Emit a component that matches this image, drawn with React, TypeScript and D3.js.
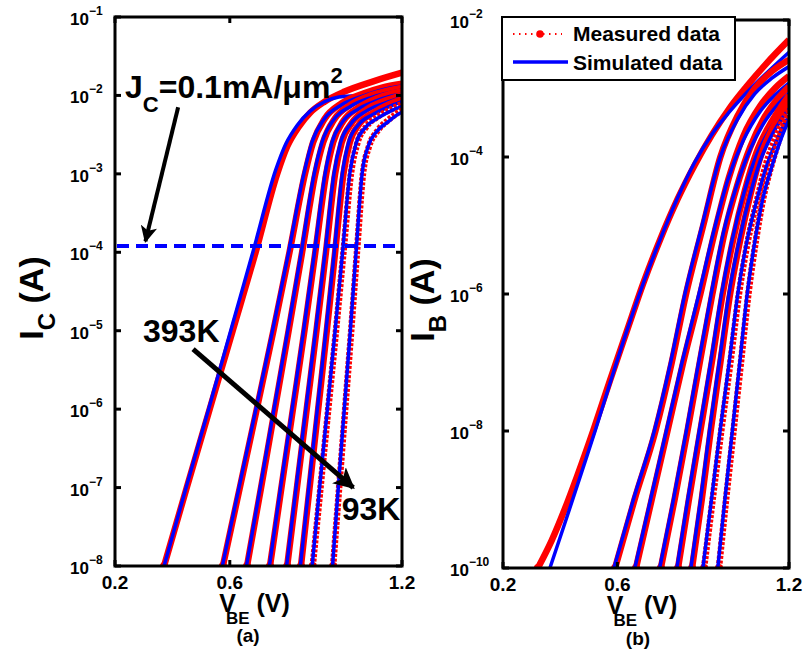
import React from 'react';
import * as d3 from 'd3';

const FONT = '"Liberation Sans", Arial, Helvetica, sans-serif';

// ---------- axes / ticks ----------
const vbeTicks = [0.2, 0.6, 1.2];
const icTickExp = [-8, -7, -6, -5, -4, -3, -2, -1];
const ibTickExp = [-10, -8, -6, -4, -2];
const temps = ['393K', 'T2', 'T3', 'T4', 'T5', 'T6', 'T7', '93K'];

// ---------- (a) I_C vs V_BE : [V_BE (V), log10 I_C (A)] ----------
const icM1 = [[0.371, -8], [0.45, -7], [0.53, -6], [0.61, -5], [0.69, -4], [0.765, -3], [0.8, -2.65], [0.84, -2.4], [0.88, -2.22], [0.93, -2.08], [1.0, -1.95], [1.1, -1.82], [1.2, -1.71]];
const icS1 = [[0.371, -8], [0.45, -6.97], [0.53, -5.95], [0.607, -4.95], [0.684, -3.95], [0.76, -2.95], [0.795, -2.62], [0.835, -2.38], [0.88, -2.2], [0.93, -2.08], [0.98, -2.02], [1.05, -2.0], [1.1, -1.98], [1.15, -1.93], [1.2, -1.87]];
const icM2 = [[0.576, -8], [0.635, -7], [0.694, -6], [0.752, -5], [0.808, -4], [0.862, -3], [0.89, -2.6], [0.93, -2.3], [0.99, -2.1], [1.07, -1.97], [1.13, -1.9], [1.2, -1.85]];
const icS2 = [[0.574, -8], [0.632, -7], [0.691, -6], [0.749, -5], [0.805, -4], [0.858, -3], [0.886, -2.6], [0.927, -2.31], [0.99, -2.12], [1.07, -2.0], [1.13, -1.93], [1.2, -1.88]];
const icM3 = [[0.66, -8], [0.709, -7], [0.757, -6], [0.805, -5], [0.852, -4], [0.898, -3], [0.925, -2.6], [0.965, -2.3], [1.02, -2.12], [1.09, -2.0], [1.15, -1.94], [1.2, -1.9]];
const icS3 = [[0.658, -8], [0.706, -7], [0.754, -6], [0.802, -5], [0.849, -4], [0.894, -3], [0.921, -2.6], [0.962, -2.31], [1.02, -2.14], [1.09, -2.03], [1.15, -1.97], [1.2, -1.93]];
const icM4 = [[0.74, -8], [0.78, -7], [0.82, -6], [0.86, -5], [0.898, -4], [0.936, -3], [0.96, -2.6], [0.995, -2.33], [1.05, -2.15], [1.11, -2.04], [1.16, -1.98], [1.2, -1.95]];
const icS4 = [[0.738, -8], [0.777, -7], [0.817, -6], [0.857, -5], [0.895, -4], [0.932, -3], [0.956, -2.6], [0.992, -2.34], [1.05, -2.17], [1.11, -2.07], [1.16, -2.01], [1.2, -1.98]];
const icM5 = [[0.8, -8], [0.834, -7], [0.868, -6], [0.902, -5], [0.935, -4], [0.967, -3], [0.99, -2.6], [1.025, -2.35], [1.075, -2.18], [1.13, -2.08], [1.17, -2.03], [1.2, -2.0]];
const icS5 = [[0.798, -8], [0.831, -7], [0.865, -6], [0.899, -5], [0.932, -4], [0.963, -3], [0.986, -2.6], [1.022, -2.36], [1.075, -2.2], [1.13, -2.11], [1.17, -2.06], [1.2, -2.03]];
const icM6 = [[0.848, -8], [0.878, -7], [0.908, -6], [0.938, -5], [0.967, -4], [0.996, -3], [1.018, -2.6], [1.05, -2.37], [1.1, -2.22], [1.15, -2.12], [1.2, -2.05]];
const icS6 = [[0.846, -8], [0.875, -7], [0.905, -6], [0.935, -5], [0.964, -4], [0.992, -3], [1.014, -2.6], [1.047, -2.38], [1.1, -2.24], [1.15, -2.15], [1.2, -2.08]];
const icM7 = [[0.889, -8], [0.916, -7], [0.943, -6], [0.97, -5], [0.996, -4], [1.022, -3], [1.045, -2.6], [1.075, -2.4], [1.12, -2.26], [1.165, -2.17], [1.2, -2.11]];
const icS7 = [[0.887, -8], [0.913, -7], [0.94, -6], [0.967, -5], [0.993, -4], [1.018, -3], [1.041, -2.6], [1.072, -2.41], [1.12, -2.28], [1.165, -2.19], [1.2, -2.14]];
const icM8 = [[0.96, -8], [0.981, -7], [1.002, -6], [1.023, -5], [1.043, -4], [1.064, -3], [1.085, -2.65], [1.115, -2.45], [1.15, -2.32], [1.178, -2.24], [1.2, -2.19]];
const icS8 = [[0.958, -8], [0.978, -7], [0.999, -6], [1.02, -5], [1.04, -4], [1.061, -3], [1.082, -2.65], [1.112, -2.46], [1.15, -2.34], [1.178, -2.26], [1.2, -2.21]];

// ---------- (b) I_B vs V_BE : [V_BE (V), log10 I_B (A)] ----------
const ibM1 = [[0.322, -10], [0.37, -9.6], [0.415, -9.15], [0.46, -8.65], [0.515, -8], [0.575, -7.25], [0.634, -6.53], [0.69, -5.85], [0.75, -5.2], [0.81, -4.62], [0.87, -4.12], [0.93, -3.68], [0.99, -3.3], [1.05, -2.98], [1.12, -2.64], [1.2, -2.29]];
const ibS1 = [[0.364, -10], [0.42, -9.3], [0.475, -8.6], [0.522, -8], [0.578, -7.25], [0.628, -6.6], [0.69, -5.85], [0.75, -5.2], [0.81, -4.6], [0.87, -4.08], [0.93, -3.67], [0.99, -3.35], [1.05, -3.07], [1.12, -2.78], [1.2, -2.47]];
const ibM2 = [[0.592, -10], [0.66, -9], [0.733, -8], [0.79, -7], [0.84, -6], [0.9, -5], [0.96, -4], [1.02, -3.4], [1.08, -3.0], [1.14, -2.75], [1.2, -2.58]];
const ibS2 = [[0.588, -10], [0.656, -9], [0.729, -8], [0.786, -7], [0.836, -6], [0.896, -5], [0.958, -4.02], [1.02, -3.45], [1.08, -3.08], [1.14, -2.85], [1.2, -2.68]];
const ibM3 = [[0.665, -10], [0.72, -9], [0.775, -8], [0.83, -7], [0.89, -6], [0.94, -5.1], [0.99, -4.3], [1.04, -3.7], [1.1, -3.25], [1.15, -3.0], [1.2, -2.82]];
const ibS3 = [[0.661, -10], [0.716, -9], [0.771, -8], [0.826, -7], [0.885, -6], [0.936, -5.1], [0.987, -4.32], [1.04, -3.76], [1.1, -3.33], [1.15, -3.1], [1.2, -2.92]];
const ibM4 = [[0.752, -10], [0.8, -9], [0.845, -8], [0.888, -7], [0.932, -6], [0.975, -5.1], [1.02, -4.4], [1.065, -3.85], [1.11, -3.45], [1.16, -3.15], [1.2, -2.97]];
const ibS4 = [[0.748, -10], [0.796, -9], [0.841, -8], [0.884, -7], [0.928, -6], [0.971, -5.1], [1.017, -4.42], [1.063, -3.9], [1.11, -3.52], [1.16, -3.24], [1.2, -3.07]];
const ibM5 = [[0.812, -10], [0.85, -9], [0.89, -8], [0.93, -7], [0.968, -6], [1.005, -5.2], [1.045, -4.5], [1.085, -3.95], [1.13, -3.55], [1.17, -3.28], [1.2, -3.1]];
const ibS5 = [[0.808, -10], [0.846, -9], [0.886, -8], [0.926, -7], [0.964, -6], [1.002, -5.2], [1.043, -4.52], [1.084, -4.0], [1.13, -3.62], [1.17, -3.37], [1.2, -3.2]];
const ibM6 = [[0.861, -10], [0.895, -9], [0.926, -8], [0.96, -7], [0.994, -6], [1.03, -5.2], [1.065, -4.55], [1.1, -4.0], [1.14, -3.6], [1.175, -3.35], [1.2, -3.2]];
const ibS6 = [[0.857, -10], [0.891, -9], [0.922, -8], [0.956, -7], [0.99, -6], [1.027, -5.2], [1.063, -4.57], [1.1, -4.05], [1.14, -3.68], [1.175, -3.44], [1.2, -3.3]];
const ibM7 = [[0.903, -10], [0.933, -9], [0.963, -8], [0.995, -7], [1.025, -6], [1.055, -5.25], [1.09, -4.6], [1.12, -4.1], [1.155, -3.7], [1.18, -3.45], [1.2, -3.3]];
const ibS7 = [[0.899, -10], [0.929, -9], [0.959, -8], [0.991, -7], [1.021, -6], [1.052, -5.25], [1.088, -4.62], [1.12, -4.15], [1.155, -3.78], [1.18, -3.55], [1.2, -3.4]];
const ibM8 = [[0.955, -10], [0.98, -9], [1.006, -8], [1.032, -7], [1.058, -6], [1.085, -5.2], [1.11, -4.6], [1.14, -4.1], [1.165, -3.75], [1.185, -3.5], [1.2, -3.36]];
const ibS8 = [[0.951, -10], [0.976, -9], [1.002, -8], [1.028, -7], [1.054, -6], [1.082, -5.2], [1.108, -4.62], [1.14, -4.14], [1.165, -3.82], [1.185, -3.6], [1.2, -3.46]];

const icMeasured = [icM1, icM2, icM3, icM4, icM5, icM6, icM7, icM8];
const icSimulated = [icS1, icS2, icS3, icS4, icS5, icS6, icS7, icS8];
const ibMeasured = [ibM1, ibM2, ibM3, ibM4, ibM5, ibM6, ibM7, ibM8];
const ibSimulated = [ibS1, ibS2, ibS3, ibS4, ibS5, ibS6, ibS7, ibS8];

const jcLevel = 1.2e-4; // J_C = 0.1 mA/um^2 line

type Box = { x0: number; x1: number; y0: number; y1: number };
const boxA: Box = { x0: 115, x1: 402, y0: 17, y1: 566 };
const boxB: Box = { x0: 503, x1: 789, y0: 20, y1: 568 };

const RED = '#ff0000';
const BLUE = '#0000ff';

function PowLabel({ x, y, exp }: { x: number; y: number; exp: number }) {
  return (
    <text x={x} y={y} fontSize={17} fontWeight="bold" fontFamily={FONT} fill="#000">
      10
      <tspan dy={-10} fontSize={12}>{'\u2212' + Math.abs(exp)}</tspan>
    </text>
  );
}

function Panel({
  box, yMinExp, yMaxExp, tickExp, measured, simulated, id, labelX,
}: {
  box: Box; yMinExp: number; yMaxExp: number; tickExp: number[];
  measured: number[][][]; simulated: number[][][]; id: string; labelX: number;
}) {
  const x = d3.scaleLinear().domain([0.2, 1.2]).range([box.x0, box.x1]);
  const y = d3.scaleLog().domain([10 ** yMinExp, 10 ** yMaxExp]).range([box.y1, box.y0]);
  const line = d3
    .line<number[]>()
    .x((d) => x(d[0]))
    .y((d) => y(10 ** d[1]))
    .curve(d3.curveMonotoneX);
  const tl = 6;
  return (
    <g>
      <defs>
        <clipPath id={id}>
          <rect x={box.x0} y={box.y0} width={box.x1 - box.x0} height={box.y1 - box.y0} />
        </clipPath>
      </defs>
      <g clipPath={`url(#${id})`}>
        {measured.map((m, i) => (
          <g key={'p' + i}>
            <path
              d={line(m) || ''}
              fill="none"
              stroke={RED}
              strokeWidth={6.5}
              strokeDasharray={i >= 6 ? '3 1.6' : undefined}
              strokeLinejoin="round"
            />
            <circle cx={x(m[0][0])} cy={y(10 ** m[0][1])} r={4} fill={RED} />
            <path d={line(simulated[i]) || ''} fill="none" stroke={BLUE} strokeWidth={3.5} strokeLinejoin="round" />
          </g>
        ))}
      </g>
      <rect x={box.x0} y={box.y0} width={box.x1 - box.x0} height={box.y1 - box.y0} fill="none" stroke="#000" strokeWidth={3} />
      {tickExp.map((e) => (
        <g key={'y' + e}>
          <line x1={box.x0} x2={box.x0 + tl} y1={y(10 ** e)} y2={y(10 ** e)} stroke="#000" strokeWidth={3} />
          <line x1={box.x1} x2={box.x1 - tl} y1={y(10 ** e)} y2={y(10 ** e)} stroke="#000" strokeWidth={3} />
          <PowLabel x={labelX} y={y(10 ** e) + 8} exp={e} />
        </g>
      ))}
      {vbeTicks.map((v) => (
        <g key={'x' + v}>
          <line x1={x(v)} x2={x(v)} y1={box.y1} y2={box.y1 - tl} stroke="#000" strokeWidth={3} />
          <line x1={x(v)} x2={x(v)} y1={box.y0} y2={box.y0 + tl} stroke="#000" strokeWidth={3} />
          <text x={x(v)} y={box.y1 + 23} fontSize={19} fontWeight="bold" fontFamily={FONT} textAnchor="middle">
            {d3.format('.1f')(v)}
          </text>
        </g>
      ))}
      <text x={(box.x0 + box.x1) / 2 - 4} y={box.y1 + 46} fontSize={25} fontWeight="bold" fontFamily={FONT} textAnchor="middle">
        V<tspan dx={-10} dy={12} fontSize={17}>BE</tspan>
        <tspan dy={-12}> (V)</tspan>
      </text>
    </g>
  );
}

export default function App() {
  const xA = d3.scaleLinear().domain([0.2, 1.2]).range([boxA.x0, boxA.x1]);
  const yA = d3.scaleLog().domain([1e-8, 1e-1]).range([boxA.y1, boxA.y0]);
  const arrow1 = { from: [0.42, 10 ** -2.15], to: [0.306, 10 ** -3.86] };
  const arrow2 = { from: [0.472, 10 ** -5.235], to: [1.03, 10 ** -7.0] };
  return (
    <svg width={806} height={656} style={{ position: 'absolute', left: 0, top: 0, background: '#fff' }} fontFamily={FONT}>
      <defs>
        <marker id="ah" viewBox="0 0 10 10" refX={9} refY={5} markerWidth={4.2} markerHeight={4.2} orient="auto" markerUnits="strokeWidth">
          <path d="M0,0 L10,5 L0,10 L2.5,5 z" fill="#000" />
        </marker>
      </defs>
      <rect x={0} y={0} width={806} height={656} fill="#fff" />
      <Panel box={boxA} yMinExp={-8} yMaxExp={-1} tickExp={icTickExp} measured={icMeasured} simulated={icSimulated} id="clipA" labelX={70} />
      <Panel box={boxB} yMinExp={-10} yMaxExp={-2} tickExp={ibTickExp} measured={ibMeasured} simulated={ibSimulated} id="clipB" labelX={450} />

      <line x1={boxA.x0 + 2} x2={boxA.x1 - 2} y1={yA(jcLevel)} y2={yA(jcLevel)} stroke={BLUE} strokeWidth={4} strokeDasharray="12 7" />

      <text x={xA(0.235)} y={yA(10 ** -2.03)} fontSize={32} fontWeight="bold">
        J<tspan dy={14} fontSize={22}>C</tspan>
        <tspan dy={-14}>=0.1mA/μm</tspan>
        <tspan dy={-15} fontSize={22}>2</tspan>
      </text>
      <line x1={xA(arrow1.from[0])} y1={yA(arrow1.from[1])} x2={xA(arrow1.to[0])} y2={yA(arrow1.to[1])} stroke="#000" strokeWidth={4} markerEnd="url(#ah)" />
      <text x={xA(0.2976)} y={yA(10 ** -5.145)} fontSize={32} fontWeight="bold">{temps[0]}</text>
      <line x1={xA(arrow2.from[0])} y1={yA(arrow2.from[1])} x2={xA(arrow2.to[0])} y2={yA(arrow2.to[1])} stroke="#000" strokeWidth={5} markerEnd="url(#ah)" />
      <text x={xA(0.99)} y={yA(10 ** -7.416)} fontSize={32} fontWeight="bold">{temps[7]}</text>

      <text transform="translate(43,298) rotate(-90)" fontSize={34} fontWeight="bold" textAnchor="middle">
        I<tspan dy={12} fontSize={24}>C</tspan>
        <tspan dy={-12}> (A)</tspan>
      </text>
      <text transform="translate(434,300) rotate(-90)" fontSize={34} fontWeight="bold" textAnchor="middle">
        I<tspan dy={12} fontSize={24}>B</tspan>
        <tspan dy={-12}> (A)</tspan>
      </text>

      <text x={248} y={642} fontSize={19} fontWeight="bold" textAnchor="middle">(a)</text>
      <text x={638} y={645} fontSize={19} fontWeight="bold" textAnchor="middle">(b)</text>

      <g>
        <rect x={502} y={17} width={233} height={63} fill="#fff" stroke="#000" strokeWidth={2} />
        <line x1={513} x2={562} y1={34} y2={34} stroke={RED} strokeWidth={2} strokeDasharray="1.5 4.5" />
        <circle cx={540} cy={34} r={3.8} fill={RED} />
        <text x={573} y={41} fontSize={21} fontWeight="bold">Measured data</text>
        <line x1={513} x2={568} y1={62} y2={62} stroke={BLUE} strokeWidth={3.5} />
        <text x={573} y={70} fontSize={21} fontWeight="bold">Simulated data</text>
      </g>
    </svg>
  );
}
